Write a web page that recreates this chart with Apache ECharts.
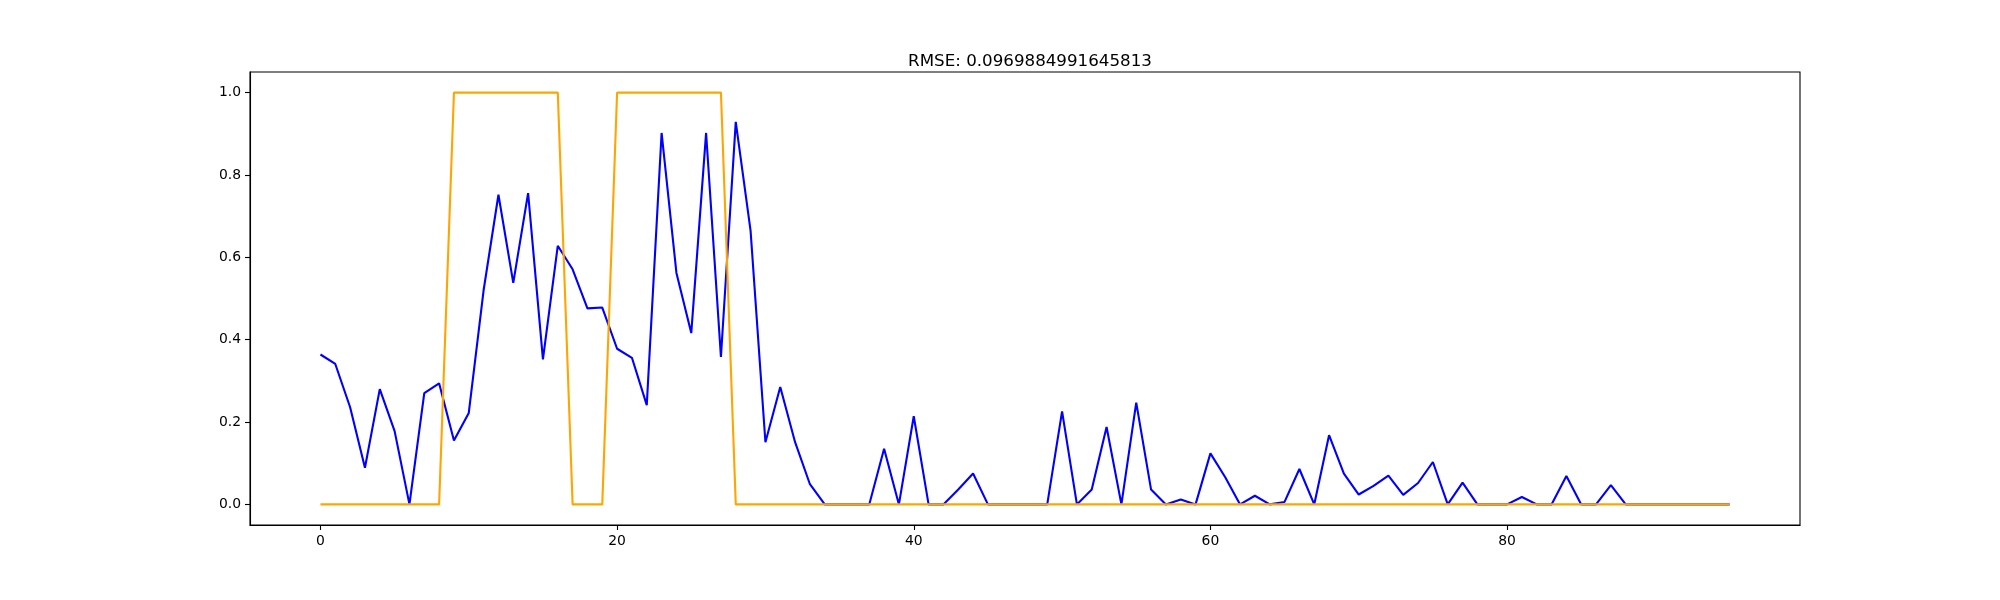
<!DOCTYPE html>
<html>
<head>
<meta charset="utf-8">
<script src="https://cdn.jsdelivr.net/npm/echarts@6/dist/echarts.min.js"></script>
<style>
html,body{margin:0;padding:0;background:#fff;}
#chart{width:2000px;height:600px;}
</style>
</head>
<body>
<div id="chart"></div>
<script>
const titleText = "RMSE: 0.0969884991645813";
const predicted = [
  0.364, 0.341, 0.236, 0.089, 0.280, 0.178, 0.000, 0.270, 0.294, 0.155,
  0.222, 0.520, 0.752, 0.538, 0.756, 0.352, 0.628, 0.571, 0.476, 0.478,
  0.378, 0.356, 0.241, 0.902, 0.562, 0.416, 0.902, 0.358, 0.929, 0.664,
  0.151, 0.285, 0.151, 0.049, 0.000, 0.000, 0.000, 0.000, 0.135, 0.000,
  0.214, 0.000, 0.000, 0.036, 0.075, 0.000, 0.000, 0.000, 0.000, 0.000,
  0.226, 0.000, 0.036, 0.188, 0.000, 0.247, 0.036, 0.000, 0.012, 0.000,
  0.124, 0.066, 0.000, 0.021, 0.000, 0.006, 0.086, 0.000, 0.168, 0.075,
  0.024, 0.045, 0.070, 0.023, 0.052, 0.103, 0.000, 0.053, 0.000, 0.000,
  0.000, 0.018, 0.000, 0.000, 0.069, 0.000, 0.000, 0.047, 0.000, 0.000,
  0.000, 0.000, 0.000, 0.000, 0.000, 0.000
];
const actual = [
  0, 0, 0, 0, 0, 0, 0, 0, 0, 1,
  1, 1, 1, 1, 1, 1, 1, 0, 0, 0,
  1, 1, 1, 1, 1, 1, 1, 1, 0, 0,
  0, 0, 0, 0, 0, 0, 0, 0, 0, 0,
  0, 0, 0, 0, 0, 0, 0, 0, 0, 0,
  0, 0, 0, 0, 0, 0, 0, 0, 0, 0,
  0, 0, 0, 0, 0, 0, 0, 0, 0, 0,
  0, 0, 0, 0, 0, 0, 0, 0, 0, 0,
  0, 0, 0, 0, 0, 0, 0, 0, 0, 0,
  0, 0, 0, 0, 0, 0
];
const xTicks = [0, 20, 40, 60, 80];
const yTicks = [0.0, 0.2, 0.4, 0.6, 0.8, 1.0];

const font = "DejaVu Sans";
const chart = echarts.init(document.getElementById('chart'), null, {renderer: 'canvas'});
const toPairs = arr => arr.map((v, i) => [i, v]);

chart.setOption({
  animation: false,
  backgroundColor: '#ffffff',
  title: {
    text: titleText,
    left: 1025,
    textAlign: 'center',
    top: 48,
    textStyle: {fontFamily: font, fontSize: 16.7, fontWeight: 'normal', color: '#000'}
  },
  grid: {
    left: 250, right: 200, top: 72, bottom: 75,
    show: true, borderColor: '#000', borderWidth: 1.1, backgroundColor: 'transparent'
  },
  xAxis: {
    type: 'value',
    min: -4.75, max: 99.75,
    splitLine: {show: false},
    axisLine: {show: true, onZero: false, lineStyle: {color: '#000', width: 1.1}},
    axisTick: {show: true, length: 5, customValues: xTicks, lineStyle: {color: '#000', width: 1.1}},
    axisLabel: {customValues: xTicks, margin: 9, fontFamily: font, fontSize: 13.9, color: '#000',
      formatter: v => String(v)}
  },
  yAxis: {
    type: 'value',
    min: -0.05, max: 1.05,
    splitLine: {show: false},
    axisLine: {show: true, onZero: false, lineStyle: {color: '#000', width: 1.1}},
    axisTick: {show: true, length: 5, customValues: yTicks, lineStyle: {color: '#000', width: 1.1}},
    axisLabel: {customValues: yTicks, margin: 9, fontFamily: font, fontSize: 13.9, color: '#000',
      formatter: v => v.toFixed(1)}
  },
  series: [
    {
      name: 'predicted', type: 'line', data: toPairs(predicted),
      showSymbol: false, symbol: 'none',
      lineStyle: {color: '#0000ff', width: 2.1}, z: 2
    },
    {
      name: 'actual', type: 'line', data: toPairs(actual),
      showSymbol: false, symbol: 'none',
      lineStyle: {color: '#ffa500', width: 2.1}, z: 3
    }
  ]
});
</script>
</body>
</html>
